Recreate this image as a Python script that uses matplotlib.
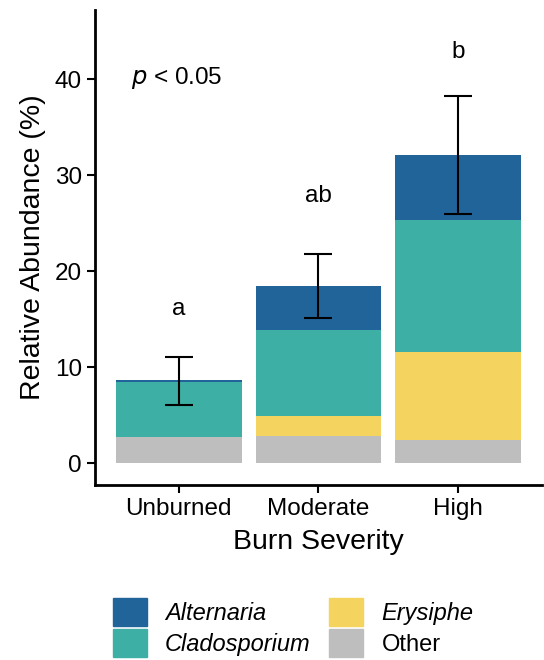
import matplotlib
matplotlib.use("Agg")
import matplotlib.pyplot as plt
import matplotlib.patches as mpatches
import numpy as np

plt.rcParams['font.family'] = ['Liberation Sans', 'DejaVu Sans']

# data
severity = ['Unburned', 'Moderate', 'High']
other = [2.7, 2.8, 2.4]
erysiphe = [0.0, 2.1, 9.2]
cladosporium = [5.7, 8.95, 13.7]
alternaria = [0.25, 4.55, 6.8]
err_low = [6.0, 15.1, 25.9]
err_high = [11.0, 21.8, 38.2]
letters = ['a', 'ab', 'b']
letter_y = [16.0, 27.8, 42.8]

colors = {'Alternaria': '#21649a', 'Cladosporium': '#3dafa5',
          'Erysiphe': '#f4d45e', 'Other': '#bebebe'}

fig = plt.figure(figsize=(5.44, 6.6), dpi=100)
ax = fig.add_axes([0.1746, 0.265, 0.8214, 0.72])

x = np.arange(len(severity))
w = 0.9
bottom = np.zeros(3)
for name, vals in [('Other', other), ('Erysiphe', erysiphe),
                   ('Cladosporium', cladosporium), ('Alternaria', alternaria)]:
    ax.bar(x, vals, w, bottom=bottom, color=colors[name], linewidth=0)
    bottom += np.array(vals)

mid = (np.array(err_low) + np.array(err_high)) / 2
half = (np.array(err_high) - np.array(err_low)) / 2
ax.errorbar(x, mid, yerr=half, fmt='none', ecolor='black', elinewidth=1.5,
            capsize=10, capthick=1.5)

for xi, t, yy in zip(x, letters, letter_y):
    ax.text(xi, yy, t, ha='center', va='center', fontsize=17.5)

ax.text(-0.34, 40.1, r'$p$ < 0.05', ha='left', va='center', fontsize=17.5)

ax.set_xlim(-0.6, 2.6)
ax.set_ylim(-2.3, 47.2)
ax.set_yticks([0, 10, 20, 30, 40])
ax.set_xticks(x)
ax.set_xticklabels(severity)
ax.tick_params(labelsize=17.5, width=1.5, length=6)
for s in ['top', 'right']:
    ax.spines[s].set_visible(False)
for s in ['left', 'bottom']:
    ax.spines[s].set_linewidth(2)
ax.set_ylabel('Relative Abundance (%)', fontsize=20.5, labelpad=6)
ax.set_xlabel('Burn Severity', fontsize=20.5, labelpad=6)

handles = [mpatches.Patch(color=colors[n], label=n) for n in
           ['Alternaria', 'Cladosporium', 'Erysiphe', 'Other']]
leg = fig.legend(handles=handles, ncol=2, loc='lower left',
                 bbox_to_anchor=(113 / 544, 0.005), frameon=False, fontsize=17,
                 handlelength=1.44, handleheight=1.44, handletextpad=0.76,
                 labelspacing=0.12, columnspacing=0.8, borderpad=0,
                 borderaxespad=0)
for t in leg.get_texts():
    if t.get_text() != 'Other':
        t.set_style('italic')

fig.savefig('out.png', dpi=100)
